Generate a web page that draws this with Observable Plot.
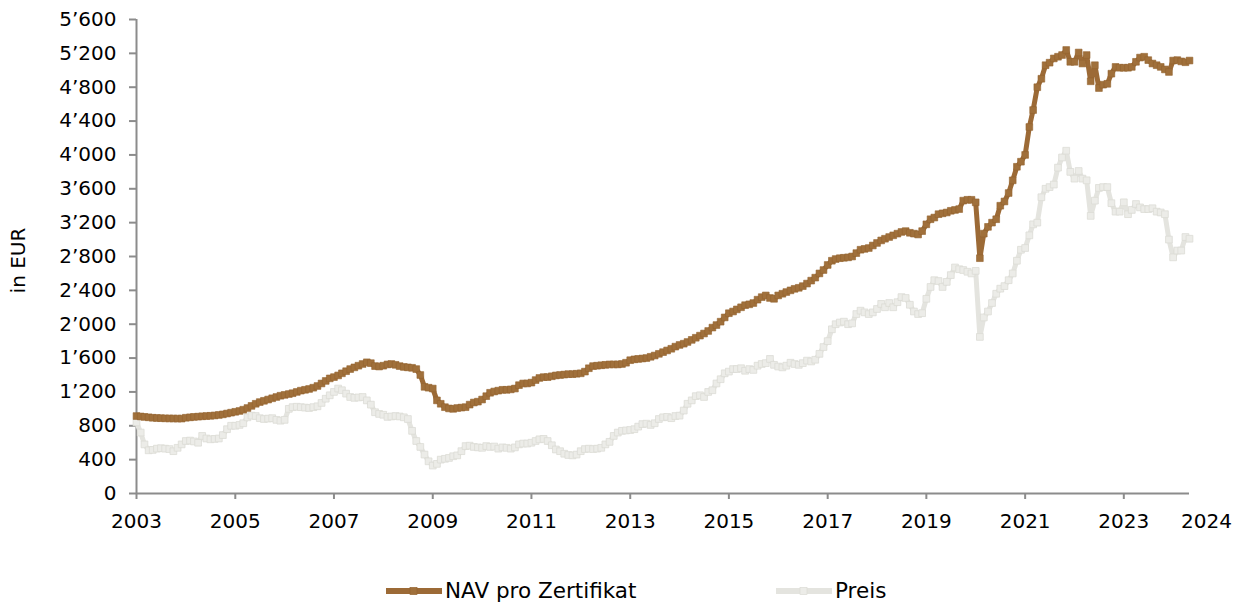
<!DOCTYPE html>
<html><head><meta charset="utf-8">
<script src="https://cdn.jsdelivr.net/npm/d3@7"></script>
<script src="https://cdn.jsdelivr.net/npm/@observablehq/plot@0.6"></script>
<style>
body{margin:0;background:#fff;font-family:"DejaVu Sans",Verdana,sans-serif;}
#wrap{position:relative;width:1242px;height:603px;overflow:hidden;}
.leg{position:absolute;top:578px;height:26px;display:flex;align-items:center;font-size:21.5px;line-height:26px;color:#000;white-space:nowrap;}
.leg svg{margin-right:3px;}
</style></head><body><div id="wrap"><div id="chart"></div><div id="legend"></div></div>
<script>
// ---- data (monthly, starting January 2003) ----
const startYear = 2003;
const nav = [
  915, 910, 905, 900, 895, 892, 890, 888, 887, 886, 885, 885,        // 2003
  895, 900, 905, 908, 912, 915, 918, 922, 928, 935, 945, 955,        // 2004
  965, 975, 990, 1010, 1035, 1060, 1080, 1095, 1110, 1125, 1140, 1155, // 2005
  1165, 1175, 1185, 1200, 1215, 1225, 1235, 1250, 1270, 1300, 1330, 1360, // 2006
  1375, 1395, 1420, 1445, 1470, 1490, 1510, 1530, 1550, 1540, 1505, 1500, // 2007
  1510, 1525, 1530, 1520, 1505, 1495, 1490, 1485, 1470, 1400, 1260, 1250, // 2008
  1240, 1100, 1060, 1020, 1005, 1000, 1010, 1015, 1020, 1050, 1075, 1085, // 2009
  1110, 1150, 1190, 1205, 1215, 1225, 1225, 1230, 1240, 1280, 1300, 1300, // 2010
  1310, 1340, 1365, 1375, 1375, 1385, 1395, 1400, 1405, 1410, 1410, 1415, // 2011
  1420, 1440, 1480, 1505, 1510, 1515, 1520, 1525, 1525, 1525, 1530, 1545, // 2012
  1575, 1585, 1590, 1595, 1600, 1615, 1630, 1650, 1670, 1690, 1710, 1735, // 2013
  1755, 1770, 1790, 1815, 1840, 1865, 1890, 1920, 1960, 1990, 2030, 2080, // 2014
  2130, 2150, 2175, 2200, 2225, 2235, 2250, 2290, 2320, 2340, 2310, 2300, // 2015
  2340, 2360, 2380, 2400, 2418, 2430, 2450, 2480, 2515, 2550, 2600, 2640, // 2016
  2700, 2750, 2770, 2780, 2785, 2790, 2800, 2840, 2880, 2890, 2900, 2930, // 2017
  2960, 2990, 3010, 3030, 3050, 3070, 3090, 3100, 3080, 3070, 3060, 3100, // 2018
  3180, 3240, 3260, 3300, 3310, 3320, 3340, 3350, 3360, 3460, 3470, 3470, // 2019
  3440, 2780, 3070, 3150, 3200, 3240, 3400, 3450, 3550, 3700, 3860, 3920, // 2020
  4000, 4330, 4530, 4800, 4900, 5060, 5090, 5140, 5160, 5180, 5240, 5100, // 2021
  5100, 5210, 5080, 5180, 4870, 5060, 4790, 4830, 4840, 4960, 5040, 5030, // 2022
  5030, 5030, 5040, 5100, 5150, 5160, 5120, 5080, 5060, 5040, 5010, 4980, // 2023
  5115, 5120, 5105, 5095, 5115                                        // 2024
];
const preis = [
  840, 720, 580, 510, 515, 530, 535, 530, 525, 500, 540, 580,        // 2003
  620, 625, 615, 600, 680, 650, 640, 645, 650, 690, 760, 800,        // 2004
  800, 810, 830, 900, 920, 915, 890, 880, 885, 890, 870, 860,        // 2005
  870, 1000, 1020, 1025, 1020, 1015, 1010, 1020, 1030, 1070, 1120, 1160, // 2006
  1200, 1240, 1220, 1180, 1140, 1130, 1135, 1140, 1100, 1050, 960, 940,  // 2007
  930, 905, 910, 915, 910, 900, 880, 740, 620, 550, 460, 380,        // 2008
  330, 350, 400, 410, 420, 440, 450, 500, 560, 565, 550, 545,        // 2009
  540, 560, 550, 555, 530, 545, 540, 530, 545, 580, 590, 590,        // 2010
  600, 620, 640, 645, 620, 570, 520, 500, 470, 455, 450, 460,        // 2011
  500, 525, 530, 525, 530, 540, 580, 610, 680, 720, 740, 745,        // 2012
  750, 760, 790, 820, 825, 810, 830, 880, 900, 905, 890, 915,        // 2013
  920, 980, 1060, 1100, 1150, 1160, 1140, 1200, 1220, 1300, 1350, 1420, // 2014
  1440, 1470, 1470, 1480, 1450, 1470, 1460, 1510, 1530, 1540, 1590, 1520, // 2015
  1500, 1490, 1510, 1545, 1530, 1520, 1540, 1570, 1560, 1580, 1650, 1730, // 2016
  1800, 1940, 2000, 2020, 2030, 2000, 2010, 2120, 2160, 2140, 2120, 2140, // 2017
  2180, 2240, 2200, 2250, 2200, 2260, 2320, 2310, 2230, 2150, 2120, 2130, // 2018
  2300, 2440, 2520, 2510, 2440, 2500, 2580, 2670, 2650, 2640, 2620, 2600, // 2019
  2630, 1850, 2080, 2150, 2250, 2360, 2420, 2450, 2520, 2600, 2750, 2880, // 2020
  2900, 3050, 3180, 3200, 3500, 3600, 3620, 3650, 3850, 3970, 4050, 3800, // 2021
  3720, 3810, 3720, 3700, 3280, 3460, 3610, 3620, 3620, 3430, 3330, 3330, // 2022
  3440, 3300, 3350, 3420, 3380, 3360, 3360, 3370, 3330, 3320, 3300, 3000, // 2023
  2790, 2870, 2870, 3030, 3010                                        // 2024
];
const seriesNames = ["NAV pro Zertifikat", "Preis"];
const seriesColors = ["#9C6A36", "#E4E4DF"];
const markerFill = ["#A0703B", "#ECECE8"];
const markerStroke = ["#94632F", "#DCDCD5"];
const yTicks = [0, 400, 800, 1200, 1600, 2000, 2400, 2800, 3200, 3600, 4000, 4400, 4800, 5200, 5600];
const xTickYears = [2003, 2005, 2007, 2009, 2011, 2013, 2015, 2017, 2019, 2021, 2023];
const xEndLabel = ["2024"];
const yLabel = ["in EUR"];

// ---- build table ----
const dates = nav.map((_, i) => new Date(Date.UTC(startYear, i, 1)));
const lastDate = dates[dates.length - 1];
const rowsNav = nav.map((v, i) => ({date: dates[i], value: v}));
const rowsPreis = preis.map((v, i) => ({date: dates[i], value: v}));
const fmt = v => d3.format(",")(v).replace(/,/g, "\u2019");
const axisGray = "#8C8C8C";

const chart = Plot.plot({
  width: 1242,
  height: 545,
  marginLeft: 136,
  marginRight: 1242 - 1189,
  marginTop: 19,
  marginBottom: 52,
  style: {fontFamily: "'DejaVu Sans', Verdana, sans-serif", fontSize: "20px", color: "#000", background: "#fff", overflow: "visible"},
  x: {type: "utc", domain: [dates[0], lastDate]},
  y: {domain: [0, 5600]},
  marks: [
    // axis lines
    Plot.ruleY([0], {stroke: axisGray, strokeWidth: 2}),
    Plot.ruleX([dates[0]], {stroke: axisGray, strokeWidth: 2}),
    // y ticks and labels
    Plot.axisY({ticks: yTicks, tickSize: 7, tickFormat: () => "", color: axisGray, label: null, strokeWidth: 2}),
    Plot.axisY({ticks: yTicks, tickSize: 0, tickPadding: 20, tickFormat: fmt, label: null, fontSize: 20}),
    // x ticks and labels
    Plot.axisX({ticks: xTickYears.map(y => new Date(Date.UTC(y, 0, 1))), tickSize: 6, tickFormat: () => "", color: axisGray, label: null, strokeWidth: 2}),
    Plot.axisX({ticks: xTickYears.map(y => new Date(Date.UTC(y, 0, 1))), tickSize: 0, tickPadding: 20, tickFormat: d => String(d.getUTCFullYear()), label: null, fontSize: 20}),
    Plot.text(xEndLabel, {x: () => lastDate, y: () => 0, text: d => d, dy: 28, dx: 17, fontSize: 20, fill: "#000"}),
    // y label
    Plot.text(yLabel, {frameAnchor: "left", textAnchor: "middle", text: d => d, rotate: -90, dx: -118, dy: 4, fontSize: 20, fill: "#000"}),
    // Preis
    Plot.line(rowsPreis, {x: "date", y: "value", stroke: seriesColors[1], strokeWidth: 5}),
    Plot.dot(rowsPreis, {x: "date", y: "value", symbol: "square", r: 3.8, fill: markerFill[1], stroke: markerStroke[1], strokeWidth: 0.8}),
    // NAV
    Plot.line(rowsNav, {x: "date", y: "value", stroke: seriesColors[0], strokeWidth: 5}),
    Plot.dot(rowsNav, {x: "date", y: "value", symbol: "square", r: 3.8, fill: markerFill[0], stroke: markerStroke[0], strokeWidth: 0.6})
  ]
});
document.getElementById("chart").appendChild(chart);

// ---- legend ----
const legendLeft = [386, 776];
const leg = document.getElementById("legend");
seriesNames.forEach((name, i) => {
  const div = document.createElement("div");
  div.className = "leg";
  div.style.left = legendLeft[i] + "px";
  div.innerHTML = `<svg width="56" height="12"><line x1="1" x2="55" y1="6" y2="6" stroke="${seriesColors[i]}" stroke-width="6" stroke-linecap="round"/><rect x="24" y="2.5" width="7" height="7" fill="${markerFill[i]}" stroke="${markerStroke[i]}" stroke-width="0.7"/></svg><span>${name}</span>`;
  leg.appendChild(div);
});
</script>
</body></html>
